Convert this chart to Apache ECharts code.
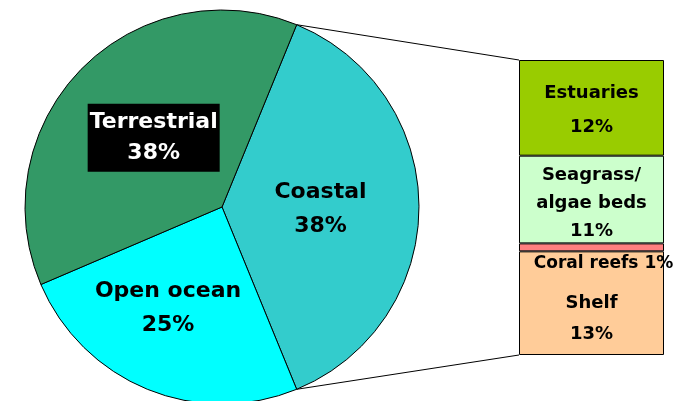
<!DOCTYPE html>
<html>
<head>
<meta charset="utf-8">
<script src="https://cdn.jsdelivr.net/npm/echarts@6/dist/echarts.min.js"></script>
<style>
  html, body { margin: 0; padding: 0; background: #ffffff; }
  #chart { width: 685px; height: 401px; }
</style>
</head>
<body>
<div id="chart"></div>
<script>
// Main breakdown (pie)
var pieNames = ['Coastal', 'Open ocean', 'Terrestrial'];
var pieValues = [38, 25, 38];
var pieColors = ['#33CCCC', '#00FFFF', '#339966'];

// Breakdown of the coastal share (stacked column), listed bottom to top
var subNames = ['Shelf', 'Coral reefs', 'Seagrass/\nalgae beds', 'Estuaries'];
var subValues = [13, 1, 11, 12];
var subColors = ['#FFCC99', '#FF8080', '#CCFFCC', '#99CC00'];

var FONT = 'DejaVu Sans';
var pieTotal = pieValues.reduce(function (a, b) { return a + b; }, 0);
var subTotal = subValues.reduce(function (a, b) { return a + b; }, 0);
var coastalHalfAngle = pieValues[0] / pieTotal * 360 / 2;

var chart = echarts.init(document.getElementById('chart'), null, { renderer: 'canvas' });

var pieData = pieNames.map(function (n, i) {
  var item = {
    name: n,
    value: pieValues[i],
    itemStyle: { color: pieColors[i] }
  };
  if (n === 'Terrestrial') {
    item.label = {
      color: '#ffffff',
      backgroundColor: '#000000',
      padding: [4, 2, 2, 2],
      lineHeight: 31
    };
  }
  return item;
});

// small per-label nudges inside the slices
var pieLabelShift = { 0: [-1.5, 1], 1: [-7.75, 3.5], 2: [2, 1] };

var barSeries = subNames.map(function (n, i) {
  var label = {
    show: true,
    position: 'inside',
    color: '#000000',
    fontFamily: FONT,
    fontWeight: 'bold',
    fontSize: 18,
    lineHeight: 29,
    formatter: function (p) { return p.seriesName + '\n' + p.value + '%'; }
  };
  if (n === 'Estuaries') {
    label.lineHeight = 34;
    label.offset = [0, 2];
  }
  if (n.indexOf('Seagrass') === 0) {
    label.lineHeight = 28;
    label.offset = [0, 4];
  }
  if (n === 'Coral reefs') {
    label.position = 'bottom';
    label.distance = 1;
    label.fontSize = 17;
    label.offset = [12, -3];
    label.formatter = function (p) { return p.seriesName + ' ' + p.value + '%'; };
  }
  if (n === 'Shelf') {
    label.lineHeight = 31;
    label.offset = [0, 16];
  }
  return {
    name: n,
    type: 'bar',
    stack: 'coastal',
    barWidth: '100%',
    data: [subValues[i]],
    itemStyle: { color: subColors[i], borderColor: '#000000', borderWidth: 1 },
    label: label,
    z: n === 'Coral reefs' ? 3 : 2,
    silent: true
  };
});

chart.setOption({
  animation: false,
  backgroundColor: '#ffffff',
  grid: { left: 519, top: 60, width: 145, height: 295 },
  xAxis: { type: 'category', data: ['Coastal'], show: false },
  yAxis: { type: 'value', min: 0, max: subTotal, show: false },
  series: [{
    type: 'pie',
    center: [222, 207],
    radius: 197,
    startAngle: coastalHalfAngle,
    clockwise: true,
    silent: true,
    data: pieData,
    itemStyle: { borderColor: '#000000', borderWidth: 1 },
    label: {
      show: true,
      position: 'inside',
      color: '#000000',
      fontFamily: FONT,
      fontWeight: 'bold',
      fontSize: 22,
      lineHeight: 34,
      formatter: function (p) { return p.name + '\n' + p.value + '%'; }
    },
    labelLine: { show: false },
    labelLayout: function (p) {
      var s = pieLabelShift[p.dataIndex] || [0, 0];
      return { dx: s[0], dy: s[1] };
    }
  }].concat(barSeries)
});

// Connector lines from the coastal slice edge to the corners of the column
function drawConnectors() {
  var lay = chart.getModel().getSeriesByIndex(0).getData().getItemLayout(0);
  var rect = chart.getModel().getComponent('grid', 0).coordinateSystem.getRect();
  var p1 = [lay.cx + lay.r * Math.cos(lay.startAngle), lay.cy + lay.r * Math.sin(lay.startAngle)];
  var p2 = [lay.cx + lay.r * Math.cos(lay.endAngle), lay.cy + lay.r * Math.sin(lay.endAngle)];
  var top = p1[1] < p2[1] ? p1 : p2;
  var bottom = p1[1] < p2[1] ? p2 : p1;
  chart.setOption({
    graphic: [
      { type: 'line', shape: { x1: top[0], y1: top[1], x2: rect.x, y2: rect.y }, style: { stroke: '#000000', lineWidth: 1 }, silent: true },
      { type: 'line', shape: { x1: bottom[0], y1: bottom[1], x2: rect.x, y2: rect.y + rect.height }, style: { stroke: '#000000', lineWidth: 1 }, silent: true }
    ]
  });
}
drawConnectors();
</script>
</body>
</html>
